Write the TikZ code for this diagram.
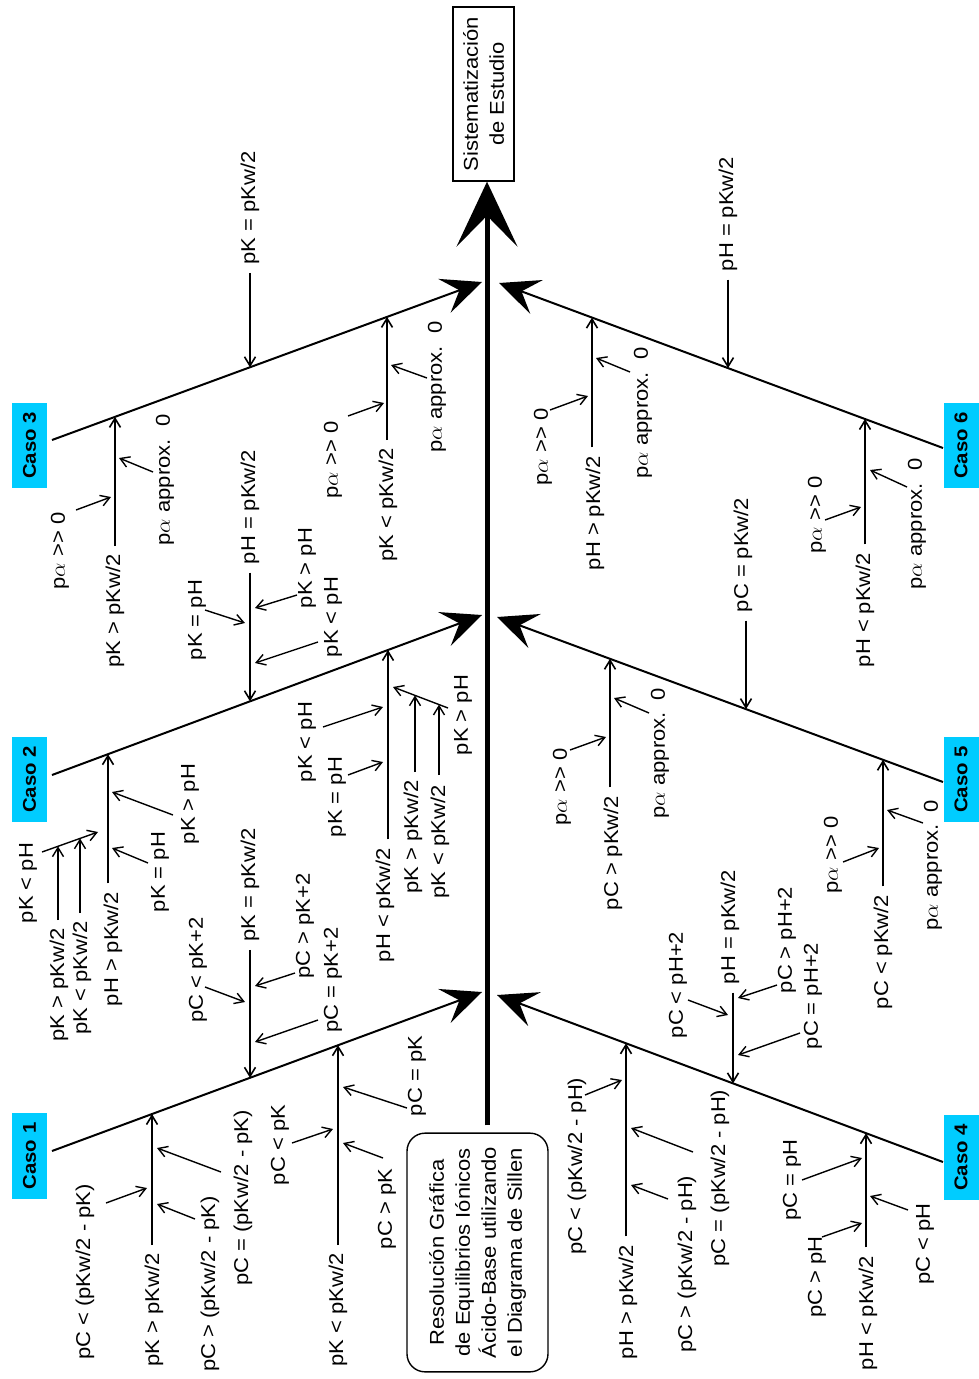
\documentclass[tikz,border=0pt]{standalone}
\usepackage{fontspec}
\setmainfont{Liberation Sans}
\usetikzlibrary{arrows.meta}
\definecolor{casofill}{RGB}{0,204,255}
% a labelled side arrow: name, start, tip
\newcommand\sidearrow[3]{\coordinate (#1o) at #2; \coordinate (#1t) at #3; \draw[sub] (#1o) -- (#1t);}
\begin{document}
\begin{tikzpicture}[x=1pt,y=-1pt,
  lbl/.style={rotate=90, xscale=1.1, inner sep=2pt, font=\fontsize{20}{26}\selectfont},
  casobox/.style={rotate=90, xscale=1.1, fill=casofill, inner sep=0pt,
    minimum width=78pt, minimum height=35pt, font=\bfseries\fontsize{18.5}{22}\selectfont},
  titlebox/.style={rotate=90, xscale=1.1, draw, line width=1.4pt, align=center, inner sep=0pt,
    font=\fontsize{20}{26}\selectfont},
  bone/.style={line width=2pt, -{Stealth[length=40pt,width=36pt,inset=16pt]}},
  rib/.style={line width=1.6pt, shorten <=6pt, -{Straight Barb[length=9pt,width=11pt]}},
  sub/.style={line width=1.4pt, -{Straight Barb[length=9pt,width=11pt]}},
  spine/.style={line width=5pt, shorten <=7pt, -{Stealth[length=65pt,width=61pt,inset=31pt]}}
]
\useasboundingbox (0,0) rectangle (978,1379);

% ---- head and tail of the fishbone ----
\node[titlebox, minimum width=158pt, minimum height=61pt] (goal) at (483.5,94) {Sistematización\\de Estudio};
\node[titlebox, rounded corners=18pt, minimum width=217pt, minimum height=141pt] (topic) at (477.5,1252.5)
  {Resolución Gráfica\\de Equilibrios Iónicos\\Ácido-Base utilizando\\el Diagrama de Sillen};
\coordinate (spx) at (487,0);
\draw[spine] (topic.east -| spx) -- (goal.west -| spx);

% ---- case boxes ----
\node[casobox] (caso1) at (29.5,1156) {Caso 1};
\node[casobox] (caso2) at (29.5,779.5) {Caso 2};
\node[casobox] (caso3) at (29.5,445.5) {Caso 3};
\node[casobox] (caso4) at (961,1157.5) {Caso 4};
\node[casobox] (caso5) at (961,779.5) {Caso 5};
\node[casobox] (caso6) at (961,445.5) {Caso 6};

% ---- main bones ----
\coordinate (b1s) at (52,1151);  \coordinate (b1e) at (482,992);
\coordinate (b2s) at (52,775);   \coordinate (b2e) at (482,615);
\coordinate (b3s) at (52,440);   \coordinate (b3e) at (482,282);
\coordinate (b4s) at (943,1162); \coordinate (b4e) at (497,995);
\coordinate (b5s) at (943,782);  \coordinate (b5e) at (497,617);
\coordinate (b6s) at (943,448);  \coordinate (b6e) at (499,283);
\foreach \i in {1,...,6} {\draw[bone] (b\i s) -- (b\i e);}

% points where the ribs meet the bones
\coordinate (p1a) at (152,1114.0); \coordinate (p1b) at (338,1045.2); \coordinate (p1c) at (250,1077.8);
\coordinate (p2a) at (108,754.2);  \coordinate (p2b) at (388,650.0);  \coordinate (p2c) at (250,701.3);
\coordinate (p3a) at (115,416.9);  \coordinate (p3b) at (387,316.9);  \coordinate (p3c) at (250,367.3);
\coordinate (p4a) at (626,1043.3); \coordinate (p4b) at (866,1133.2); \coordinate (p4c) at (733,1083.4);
\coordinate (p5a) at (610,658.8);  \coordinate (p5b) at (883,759.8);  \coordinate (p5c) at (746,709.1);
\coordinate (p6a) at (592,317.6);  \coordinate (p6b) at (865,419.0);  \coordinate (p6c) at (728,368.1);

% ================= Caso 1 =================
\node[lbl] (l1a) at (154,1310) {pK > pKw/2};
\node[lbl] (l1b) at (338,1310) {pK < pKw/2};
\node[lbl] (l1c) at (250,885) {pK = pKw/2};
\draw[rib] (l1a.east -| p1a) -- (p1a);
\draw[rib] (l1b.east -| p1b) -- (p1b);
\draw[rib] (l1c.west -| p1c) -- (p1c);
\node[lbl] (s1) at (85,1272) {pC < (pKw/2 - pK)};
\node[lbl] (s2) at (210,1284) {pC > (pKw/2 - pK)};
\node[lbl] (s3) at (243,1198) {pC = (pKw/2 - pK)};
\node[lbl] (s4) at (280,1145) {pC < pK};
\node[lbl] (s5) at (387,1209) {pC > pK};
\node[lbl] (s6) at (417,1076) {pC = pK};
\node[lbl] (s7) at (198,970) {pC < pK+2};
\node[lbl] (s8) at (305,926) {pC > pK+2};
\node[lbl] (s9) at (333,980) {pC = pK+2};
\sidearrow{s1}{(106,1203)}{(147,1188)}
\sidearrow{s2}{(195,1219)}{(157,1204)}
\sidearrow{s3}{(221,1172)}{(157,1148)}
\sidearrow{s4}{(292,1143)}{(333,1129)}
\sidearrow{s5}{(383,1158)}{(343,1143)}
\sidearrow{s6}{(407,1108)}{(343,1087)}
\sidearrow{s7}{(205,987)}{(245,1002)}
\sidearrow{s8}{(295,973)}{(255,986)}
\sidearrow{s9}{(318,1020)}{(255,1042)}

% ================= Caso 2 =================
\node[lbl] (l2a) at (113,949) {pH > pKw/2};
\node[lbl] (l2b) at (385,905) {pH < pKw/2};
\node[lbl] (l2c) at (250,507) {pH = pKw/2};
\draw[rib] (l2a.east -| p2a) -- (p2a);
\draw[rib] (l2b.east -| p2b) -- (p2b);
\draw[rib] (l2c.west -| p2c) -- (p2c);
\node[lbl] (t1) at (160,872) {pK = pH};
\node[lbl] (t2) at (190,804) {pK > pH};
\node[lbl] (t3) at (28,883) {pK < pH};
\node[lbl] (t4) at (59,985) {pK > pKw/2};
\node[lbl] (t5) at (82,978) {pK < pKw/2};
\node[lbl] (t6) at (307,742) {pK < pH};
\node[lbl] (t7) at (337,797) {pK = pH};
\node[lbl] (t8) at (463,715) {pK > pH};
\node[lbl] (t9) at (413,837) {pK > pKw/2};
\node[lbl] (t10) at (440,842) {pK < pKw/2};
\node[lbl] (t11) at (197,620) {pK = pH};
\node[lbl] (t12) at (307,568) {pK > pH};
\node[lbl] (t13) at (333,617) {pK < pH};
\sidearrow{t1}{(148,863)}{(112,848)}
\sidearrow{t2}{(173,815)}{(112,792)}
\sidearrow{t3}{(42,852)}{(98,832)}
\sidearrow{t4}{(58,920)}{(58,846.3)}
\sidearrow{t5}{(80,913)}{(80,838.4)}
\sidearrow{t6}{(323,727)}{(383,707)}
\sidearrow{t7}{(348,775)}{(383,762)}
\sidearrow{t8}{(448,708)}{(393,687)}
\sidearrow{t9}{(415,772)}{(415,695.4)}
\sidearrow{t10}{(439,775)}{(439,704.6)}
\sidearrow{t11}{(205,610)}{(245,623)}
\sidearrow{t12}{(297,595)}{(255,608)}
\sidearrow{t13}{(318,642)}{(255,663)}

% ================= Caso 3 =================
\node[lbl] (l3a) at (115,611) {pK > pKw/2};
\node[lbl] (l3b) at (388,505) {pK < pKw/2};
\node[lbl] (l3c) at (250,208) {pK = pKw/2};
\draw[rib] (l3a.east -| p3a) -- (p3a);
\draw[rib] (l3b.east -| p3b) -- (p3b);
\draw[rib] (l3c.west -| p3c) -- (p3c);
\node[lbl] (u1) at (60,551) {p$\alpha$ >\kern0pt> 0};
\node[lbl] (u2) at (165,480) {p$\alpha$ approx.\ \ 0};
\node[lbl] (u3) at (333,460) {p$\alpha$ >\kern0pt> 0};
\node[lbl] (u4) at (437,387) {p$\alpha$ approx.\ \ 0};
\sidearrow{u1}{(76,510)}{(111,497)}
\sidearrow{u2}{(153,472)}{(119,458)}
\sidearrow{u3}{(348,416)}{(384,403)}
\sidearrow{u4}{(427,378)}{(391,365)}

% ================= Caso 4 =================
\node[lbl] (l4a) at (628,1302) {pH > pKw/2};
\node[lbl] (l4b) at (868,1313) {pH < pKw/2};
\node[lbl] (l4c) at (730,927) {pH = pKw/2};
\draw[rib] (l4a.east -| p4a) -- (p4a);
\draw[rib] (l4b.east -| p4b) -- (p4b);
\draw[rib] (l4c.west -| p4c) -- (p4c);
\node[lbl] (v1) at (577,1166) {pC < (pKw/2 - pH)};
\node[lbl] (v2) at (687,1264) {pC > (pKw/2 - pH)};
\node[lbl] (v3) at (720,1178) {pC = (pKw/2 - pH)};
\node[lbl] (v4) at (792,1180) {pC = pH};
\node[lbl] (v5) at (817,1277) {pC > pH};
\node[lbl] (v6) at (925,1244) {pC < pH};
\node[lbl] (v7) at (678,985) {pC < pH+2};
\node[lbl] (v8) at (787,940) {pC > pH+2};
\node[lbl] (v9) at (813,996) {pC = pH+2};
\sidearrow{v1}{(585,1095)}{(622,1080)}
\sidearrow{v2}{(668,1199)}{(631,1185)}
\sidearrow{v3}{(693,1152)}{(631,1128)}
\sidearrow{v4}{(802,1180)}{(862,1158)}
\sidearrow{v5}{(822,1237)}{(862,1223)}
\sidearrow{v6}{(908,1210)}{(870,1196)}
\sidearrow{v7}{(688,1000)}{(728,1015)}
\sidearrow{v8}{(777,985)}{(738,998)}
\sidearrow{v9}{(800,1033)}{(738,1055)}

% ================= Caso 5 =================
\node[lbl] (l5a) at (613,853) {pC > pKw/2};
\node[lbl] (l5b) at (883,952) {pC < pKw/2};
\node[lbl] (l5c) at (743,555) {pC = pKw/2};
\draw[rib] (l5a.east -| p5a) -- (p5a);
\draw[rib] (l5b.east -| p5b) -- (p5b);
\draw[rib] (l5c.west -| p5c) -- (p5c);
\node[lbl] (w1) at (562,787) {p$\alpha$ >\kern0pt> 0};
\node[lbl] (w2) at (660,753) {p$\alpha$ approx.\ \ 0};
\node[lbl] (w3) at (833,855) {p$\alpha$ >\kern0pt> 0};
\node[lbl] (w4) at (933,865) {p$\alpha$ approx.\ \ 0};
\sidearrow{w1}{(570,750)}{(606,737)}
\sidearrow{w2}{(649,713)}{(614,698)}
\sidearrow{w3}{(843,862)}{(879,848)}
\sidearrow{w4}{(923,823)}{(887,810)}

% ================= Caso 6 =================
\node[lbl] (l6a) at (595,513) {pH > pKw/2};
\node[lbl] (l6b) at (865,610) {pH < pKw/2};
\node[lbl] (l6c) at (728,214) {pH = pKw/2};
\draw[rib] (l6a.east -| p6a) -- (p6a);
\draw[rib] (l6b.east -| p6b) -- (p6b);
\draw[rib] (l6c.west -| p6c) -- (p6c);
\node[lbl] (x1) at (543,447) {p$\alpha$ >\kern0pt> 0};
\node[lbl] (x2) at (643,413) {p$\alpha$ approx.\ \ 0};
\node[lbl] (x3) at (817,515) {p$\alpha$ >\kern0pt> 0};
\node[lbl] (x4) at (917,524) {p$\alpha$ approx.\ \ 0};
\sidearrow{x1}{(550,410)}{(588,396)}
\sidearrow{x2}{(630,372)}{(596,358)}
\sidearrow{x3}{(825,520)}{(861,507)}
\sidearrow{x4}{(907,487)}{(870,470)}
\end{tikzpicture}
\end{document}
